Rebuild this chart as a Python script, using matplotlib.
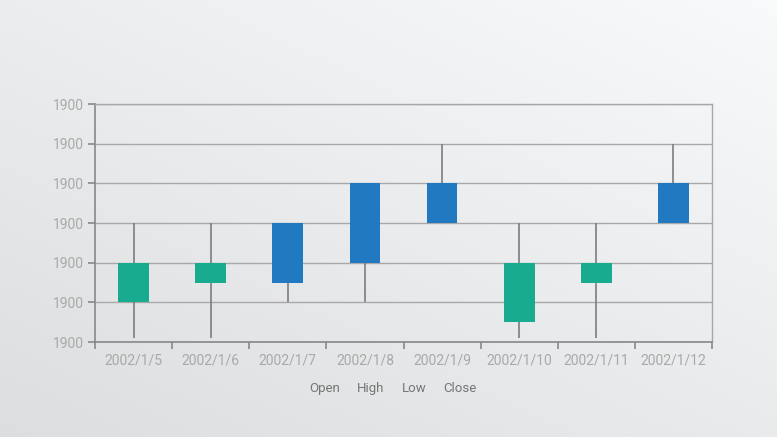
import numpy as np
import matplotlib.pyplot as plt
from matplotlib.ticker import FuncFormatter

plt.rcParams['font.family'] = ['Roboto', 'DejaVu Sans']

# candle data
dates = ['2002/1/5', '2002/1/6', '2002/1/7', '2002/1/8',
         '2002/1/9', '2002/1/10', '2002/1/11', '2002/1/12']
open_ = [1899.80, 1899.80, 1899.75, 1899.80, 1899.90, 1899.80, 1899.80, 1899.90]
close = [1899.70, 1899.75, 1899.90, 1900.00, 1900.00, 1899.65, 1899.75, 1900.00]
high = [1899.90, 1899.90, 1899.90, 1900.00, 1900.10, 1899.90, 1899.90, 1900.10]
low = [1899.61, 1899.61, 1899.70, 1899.70, 1899.90, 1899.61, 1899.61, 1899.90]
legend_items = ['Open', 'High', 'Low', 'Close']

up_color = '#2179c2'
down_color = '#19ab90'
label_color = '#a9a9a9'

fig = plt.figure(figsize=(7.77, 4.37), dpi=100)

# light grey background, lighter towards the top right
bg = fig.add_axes([0, 0, 1, 1], zorder=-10)
yy, xx = np.mgrid[0:1:200j, 0:1:300j]
shade = 0.865 + 0.05 * xx + 0.06 * yy
img = np.dstack([shade, np.clip(shade + 0.004, 0, 1), np.clip(shade + 0.009, 0, 1)])
bg.imshow(img, origin='lower', aspect='auto', extent=[0, 1, 0, 1])
bg.axis('off')

ax = fig.add_axes([95 / 777, 95 / 437, 617 / 777, 238 / 437])
ax.set_facecolor('none')

x = np.arange(len(dates))
w = 0.4
for i in x:
    o, c, h, l = open_[i], close[i], high[i], low[i]
    col = up_color if c > o else down_color
    ax.vlines(i, l, h, color='#7d7d7d', lw=1.2, zorder=2)
    ax.bar(i, abs(c - o), bottom=min(o, c), width=w, color=col, zorder=3)

ax.set_xlim(-0.5, len(dates) - 0.5)
ax.set_ylim(1899.6, 1900.2)
ax.set_yticks(np.arange(1899.6, 1900.21, 0.1))
ax.yaxis.set_major_formatter(FuncFormatter(lambda v, p: f'{v:.0f}'))
ax.grid(axis='y', color='#a8a8a8', lw=1)
ax.set_axisbelow(True)

ax.set_xticks(x)
ax.set_xticklabels(dates)
ax.set_xticks(np.arange(-0.5, len(dates), 1), minor=True)
ax.tick_params(axis='x', which='major', length=0, pad=8, labelsize=10, labelcolor=label_color)
ax.tick_params(axis='x', which='minor', length=5, color='#888888', width=1.2)
ax.tick_params(axis='y', length=5, color='#888888', width=1.2, pad=3,
               labelsize=10, labelcolor=label_color)

for s in ['top', 'right']:
    ax.spines[s].set_color('#a8a8a8')
    ax.spines[s].set_linewidth(1)
for s in ['left', 'bottom']:
    ax.spines[s].set_color('#888888')
    ax.spines[s].set_linewidth(1.2)

# legend as plain text row
xs = [325, 371, 414, 460]
for t, px in zip(legend_items, xs):
    fig.text(px / 777, 1 - 392 / 437, t, ha='center', va='baseline',
             fontsize=9.5, color='#767676')

fig.savefig('out.png', dpi=100)
